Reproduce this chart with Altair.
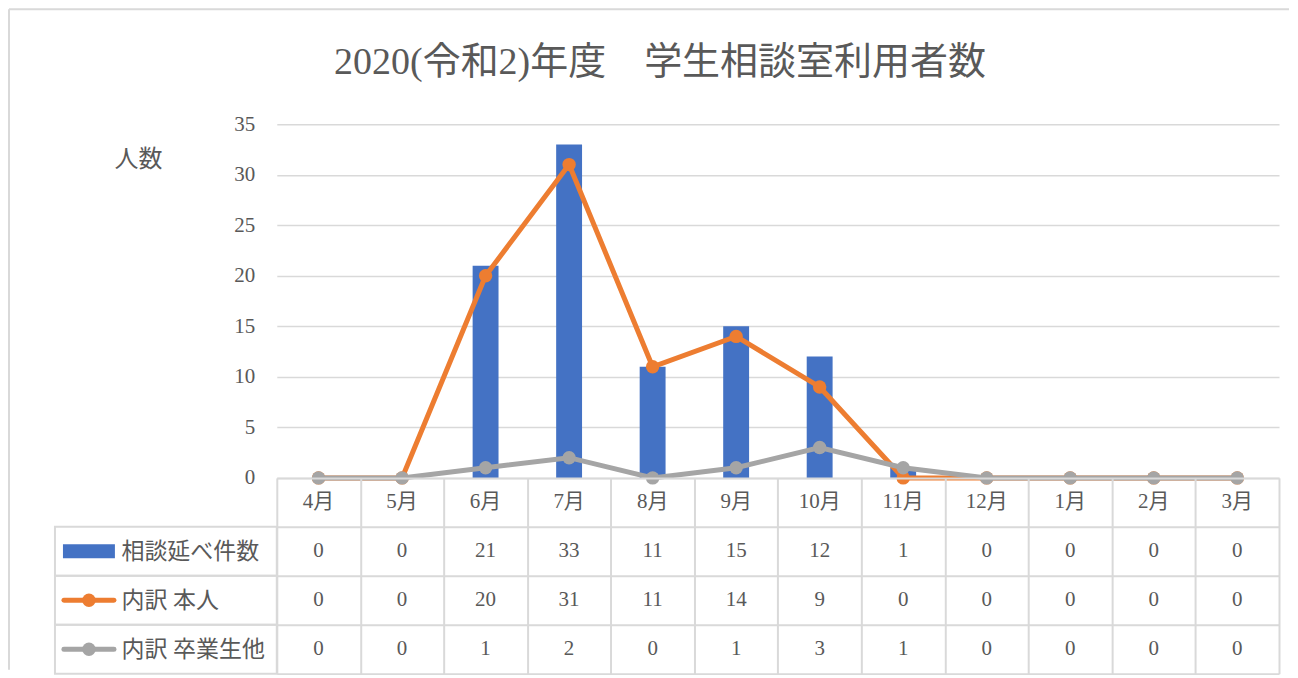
import altair as alt
import pandas as pd

# ---- data ----
months = ["4月", "5月", "6月", "7月", "8月", "9月", "10月", "11月", "12月", "1月", "2月", "3月"]
total = [0, 0, 21, 33, 11, 15, 12, 1, 0, 0, 0, 0]
honnin = [0, 0, 20, 31, 11, 14, 9, 0, 0, 0, 0, 0]
sotsugyo = [0, 0, 1, 2, 0, 1, 3, 1, 0, 0, 0, 0]
series = ["相談延べ件数", "内訳 本人", "内訳 卒業生他"]
colors = ["#4472C4", "#ED7D31", "#A5A5A5"]
y_ticks = [0, 5, 10, 15, 20, 25, 30, 35]
title_text = "2020(令和2)年度　学生相談室利用者数"
y_title = "人数"

FONT = "Liberation Serif, Noto Sans CJK JP"
TXT = "#595959"
GRID = "#D9D9D9"

bars_df = pd.DataFrame({"month": months, "value": total, "series": series[0]})
lines_df = pd.concat([
    pd.DataFrame({"month": months, "value": honnin, "series": series[1]}),
    pd.DataFrame({"month": months, "value": sotsugyo, "series": series[2]}),
])

color_scale = alt.Scale(domain=series, range=colors)

x_top = alt.X("month:N", sort=months,
              scale=alt.Scale(domain=months, paddingInner=0.69, paddingOuter=0.345),
              axis=None)
y_top = alt.Y("value:Q",
              scale=alt.Scale(domain=[0, 35], nice=False),
              axis=alt.Axis(values=y_ticks, title=y_title, titleAngle=0, titleX=-139, titleY=35,
                            titleAlign="center", titleBaseline="middle", titleFontSize=24,
                            titleFontWeight="normal", titleColor=TXT, titleFont=FONT,
                            labelFontSize=21, labelColor=TXT, labelFont=FONT, labelPadding=22,
                            ticks=False, domain=False, gridColor=GRID, gridWidth=1.5))

bars = alt.Chart(bars_df).mark_bar(color=colors[0]).encode(x=x_top, y=y_top)

def line_layer(name):
    src = alt.Chart(lines_df).transform_filter(alt.datum.series == name)
    ln = src.mark_line(strokeWidth=5).encode(
        x=x_top, y=y_top, color=alt.Color("series:N", scale=color_scale, legend=None))
    pt = src.mark_circle(size=180, opacity=1).encode(
        x=x_top, y=y_top, color=alt.Color("series:N", scale=color_scale, legend=None))
    return ln + pt

top = alt.layer(bars, line_layer(series[1]), line_layer(series[2])).properties(
    width=1003, height=354,
    title=alt.TitleParams(title_text, fontSize=38, font=FONT, color=TXT, fontWeight="normal",
                          anchor="middle", dx=-118, offset=31))

# ---- table ----
row_domain = [" "] + series
header_df = pd.DataFrame({"month": months, "row": " ", "text": months})
vals = []
for s, arr in zip(series, [total, honnin, sotsugyo]):
    vals.append(pd.DataFrame({"month": months, "row": s, "text": [str(v) for v in arr]}))
table_df = pd.concat([header_df] + vals)

x_tab = alt.X("month:N", sort=months,
              scale=alt.Scale(domain=months, paddingInner=0, paddingOuter=0),
              axis=alt.Axis(title=None, labels=False, ticks=False, domain=False, grid=True,
                            tickBand="extent", gridColor=GRID, gridWidth=2))
y_tab = alt.Y("row:N", sort=row_domain,
              scale=alt.Scale(domain=row_domain, paddingInner=0, paddingOuter=0),
              axis=alt.Axis(title=None, ticks=False, domain=False, grid=True, tickBand="extent",
                            gridColor=GRID, gridWidth=2, labelAlign="left", labelPadding=156,
                            labelFontSize=23, labelColor=TXT, labelFont=FONT,
                            labelBaseline="middle"))

cells = alt.Chart(table_df).mark_text(fontSize=21, font=FONT, color=TXT).encode(
    x=x_tab, y=y_tab, text="text:N")

leg_df = pd.DataFrame({"row": series, "kind": ["bar", "line", "line"]})
y_leg = alt.Y("row:N", sort=row_domain,
              scale=alt.Scale(domain=row_domain, paddingInner=0, paddingOuter=0))
leg_boxes = alt.Chart(leg_df).mark_rect(fill="white", fillOpacity=0, stroke=GRID, strokeWidth=2).encode(
    x=alt.value(-222), x2=alt.value(0), y=y_leg)
leg_bar = alt.Chart(leg_df).transform_filter(alt.datum.kind == "bar").mark_rule(
    strokeWidth=14, strokeCap="butt").encode(
    x=alt.value(-214), x2=alt.value(-162), y=y_leg,
    color=alt.Color("row:N", scale=color_scale, legend=None))
leg_line = alt.Chart(leg_df).transform_filter(alt.datum.kind == "line").mark_rule(
    strokeWidth=5, strokeCap="round").encode(
    x=alt.value(-213), x2=alt.value(-163), y=y_leg,
    color=alt.Color("row:N", scale=color_scale, legend=None))
leg_pt = alt.Chart(leg_df).transform_filter(alt.datum.kind == "line").mark_circle(
    size=180, opacity=1).encode(
    x=alt.value(-188), y=y_leg,
    color=alt.Color("row:N", scale=color_scale, legend=None))

# chart-area frame (top and left edges of the outer border)
frame_df = pd.DataFrame({"k": [0]})
frame_top = alt.Chart(frame_df).mark_rule(color=GRID, strokeWidth=2).encode(
    x=alt.value(-268), x2=alt.value(1013), y=alt.value(-469))
frame_left = alt.Chart(frame_df).mark_rule(color=GRID, strokeWidth=2).encode(
    x=alt.value(-268), y=alt.value(-469), y2=alt.value(192))

table = alt.layer(frame_top, frame_left, leg_boxes, leg_bar, leg_line, leg_pt, cells).properties(
    width=1003, height=196)

chart = alt.vconcat(top, table, spacing=0, bounds="flush").resolve_scale(
    x="independent", y="independent", color="shared"
).properties(
    padding={"left": 0, "top": 0, "right": 0, "bottom": 0},
    background="white",
).configure_view(stroke=None)

chart.save("out.html", embed_options={"renderer": "svg", "actions": False})
